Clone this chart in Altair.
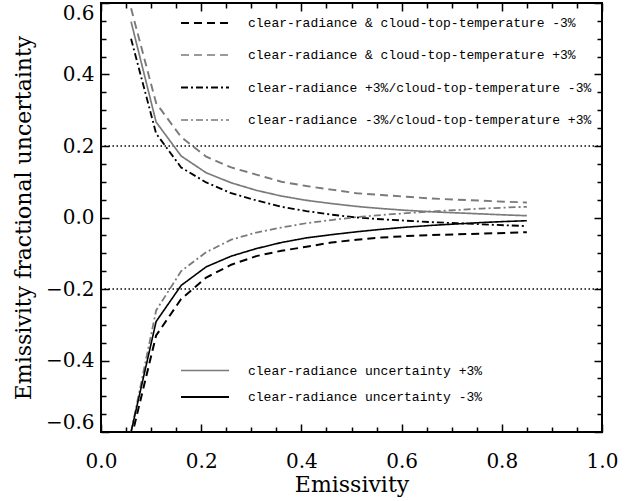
import altair as alt
import pandas as pd

# ---------------- data ----------------
emissivity = [0.06, 0.11, 0.16, 0.21, 0.26, 0.31, 0.36, 0.41, 0.46,
              0.51, 0.56, 0.61, 0.66, 0.71, 0.76, 0.81, 0.85]

clear_plus = [0.548, 0.267, 0.172, 0.125, 0.097, 0.076, 0.060, 0.048, 0.039,
              0.031, 0.025, 0.020, 0.016, 0.013, 0.010, 0.007, 0.005]
clear_minus = [-0.60, -0.291, -0.190, -0.138, -0.108, -0.087, -0.070, -0.057, -0.048,
               -0.040, -0.033, -0.027, -0.022, -0.018, -0.014, -0.011, -0.009]
both_minus = [-0.62, -0.33, -0.228, -0.168, -0.132, -0.108, -0.093, -0.082, -0.070,
              -0.062, -0.056, -0.052, -0.049, -0.047, -0.045, -0.043, -0.041]
both_plus = [0.585, 0.32, 0.225, 0.170, 0.140, 0.120, 0.100, 0.088, 0.078,
             0.068, 0.063, 0.058, 0.053, 0.050, 0.047, 0.044, 0.042]
clear_p_ctt_m = [0.50, 0.235, 0.140, 0.098, 0.068, 0.048, 0.030, 0.018, 0.008,
                 0.000, -0.005, -0.009, -0.013, -0.016, -0.019, -0.022, -0.024]
clear_m_ctt_p = [-0.60, -0.26, -0.150, -0.097, -0.062, -0.042, -0.028, -0.016, -0.007,
                 0.001, 0.007, 0.012, 0.017, 0.021, 0.025, 0.028, 0.030]

series_keys = ["both_minus", "both_plus", "cp_tm", "cm_tp", "clear_plus", "clear_minus"]
series_values = [both_minus, both_plus, clear_p_ctt_m, clear_m_ctt_p, clear_plus, clear_minus]
series_labels = [
    "clear-radiance & cloud-top-temperature -3%",
    "clear-radiance & cloud-top-temperature +3%",
    "clear-radiance +3%/cloud-top-temperature -3%",
    "clear-radiance -3%/cloud-top-temperature +3%",
    "clear-radiance uncertainty +3%",
    "clear-radiance uncertainty -3%",
]
threshold_values = [0.2, -0.2]

x_major = [0.0, 0.2, 0.4, 0.6, 0.8, 1.0]
x_minor = [0.05, 0.1, 0.15, 0.25, 0.3, 0.35, 0.45, 0.5, 0.55, 0.65, 0.7, 0.75, 0.85, 0.9, 0.95]
y_major = [-0.6, -0.4, -0.2, 0.0, 0.2, 0.4, 0.6]
y_minor = [-0.55, -0.5, -0.45, -0.35, -0.3, -0.25, -0.15, -0.1, -0.05,
           0.05, 0.1, 0.15, 0.25, 0.3, 0.35, 0.45, 0.5, 0.55]

# ---------------- styles ----------------
GREY = "#7a7a7a"
colors = ["#000000", GREY, "#000000", GREY, GREY, "#000000"]
dashes = [[8, 5], [8, 5], [7, 3, 2, 3], [7, 3, 2, 3], [1, 0], [1, 0]]
widths = [2.0, 1.6, 2.0, 1.6, 1.6, 2.0]
legend_py = [20, 52, 84.5, 117, 367.5, 394]

rows = []
for key, vals in zip(series_keys, series_values):
    for e, v in zip(emissivity, vals):
        rows.append({"series": key, "emissivity": e, "value": v})
df = pd.DataFrame(rows)

W, H = 501, 429
x_scale = alt.Scale(domain=[0, 1], nice=False, zero=False)
y_scale = alt.Scale(domain=[-0.6, 0.6], nice=False, zero=False)

SERIF = "DejaVu Serif"
MONO = "Liberation Mono"
LABEL_EXPR = "replace(format(datum.value, '.1f'), '-', '\u2212')"


def axis(orient, values, size, labels=False, title=None, **kw):
    return alt.Axis(
        orient=orient, values=values, tickSize=size, offset=-size, tickWidth=1.5,
        tickColor="black", domain=False, grid=False, labels=labels,
        title=title, **kw,
    )


x_main = axis("bottom", x_major, 8, labels=True, title="Emissivity",
              labelExpr=LABEL_EXPR, labelFlush=False,
              labelFont=SERIF, labelFontSize=20, labelColor="black", labelPadding=19,
              titleFont=SERIF, titleFontSize=22, titleFontWeight="normal",
              titleColor="black", titlePadding=3)
y_main = axis("left", y_major, 8, labels=True, title="Emissivity fractional uncertainty",
              labelExpr=LABEL_EXPR, labelFlush=True,
              labelFont=SERIF, labelFontSize=20, labelColor="black", labelPadding=7,
              titleFont=SERIF, titleFontSize=22, titleFontWeight="normal",
              titleColor="black", titlePadding=10)

lines = alt.Chart(df).mark_line(clip=True).encode(
    x=alt.X("emissivity:Q", scale=x_scale, axis=x_main),
    y=alt.Y("value:Q", scale=y_scale, axis=y_main),
    color=alt.Color("series:N", scale=alt.Scale(domain=series_keys, range=colors), legend=None),
    strokeDash=alt.StrokeDash("series:N", scale=alt.Scale(domain=series_keys, range=dashes), legend=None),
    strokeWidth=alt.StrokeWidth("series:N", scale=alt.Scale(domain=series_keys, range=widths), legend=None),
    detail="series:N",
)


def tick_layer(xax, yax):
    return alt.Chart(df).mark_point(opacity=0).encode(
        x=alt.X("emissivity:Q", scale=x_scale, axis=xax),
        y=alt.Y("value:Q", scale=y_scale, axis=yax),
    )


ticks1 = tick_layer(axis("bottom", x_minor, 5), axis("left", y_minor, 5))
ticks2 = tick_layer(axis("top", x_major, 8), axis("right", y_major, 8))
ticks3 = tick_layer(axis("top", x_minor, 5), axis("right", y_minor, 5))

thr = alt.Chart(pd.DataFrame({"v": threshold_values})).mark_rule(
    color="black", strokeDash=[1.5, 2.5], strokeWidth=1.5
).encode(y=alt.Y("v:Q", scale=y_scale, axis=None))

legend_layers = []
for i, lab in enumerate(series_labels):
    ldf = pd.DataFrame({"label": [lab]})
    legend_layers.append(
        alt.Chart(ldf).mark_rule(
            color=colors[i], strokeDash=dashes[i], strokeWidth=widths[i]
        ).encode(x=alt.value(80), x2=alt.value(128), y=alt.value(legend_py[i]))
    )
    legend_layers.append(
        alt.Chart(ldf).mark_text(
            align="left", baseline="middle", font=MONO, fontSize=13, color="black"
        ).encode(x=alt.value(147), y=alt.value(legend_py[i]), text="label:N")
    )

chart = alt.layer(thr, lines, ticks1, ticks2, ticks3, *legend_layers).resolve_axis(
    x="independent", y="independent"
).properties(
    width=W, height=H,
    padding={"left": 101, "top": 3, "right": 30, "bottom": 69},
    autosize=alt.AutoSizeParams(type="none"),
).configure_view(stroke="black", strokeWidth=2)

chart.save("out.html", embed_options={"renderer": "svg", "actions": False})
